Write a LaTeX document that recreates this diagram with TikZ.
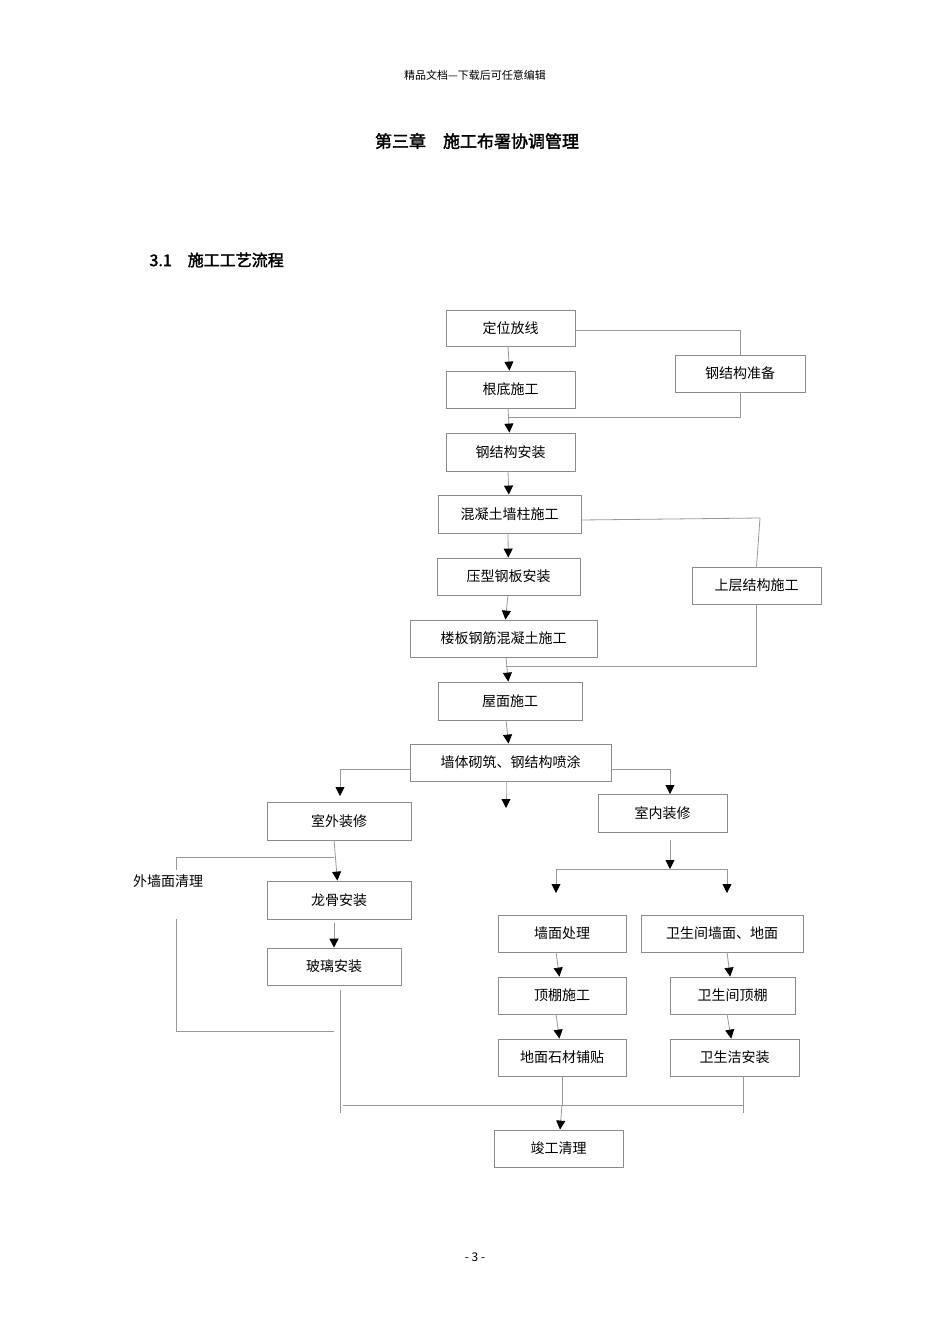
\documentclass[tikz,border=0pt]{standalone}
\usepackage{fontspec}
\setmainfont[AutoFakeBold=2]{Noto Sans CJK SC}
\usetikzlibrary{arrows.meta}
\tikzset{
  box/.style={draw=black!45, line width=0.8pt, inner sep=0pt, font=\fontsize{14}{14}\selectfont},
  ln/.style={draw=black!40, line width=0.8pt},
  ar/.style={ln, -{Triangle[length=9pt,width=9pt,color=black]}},
}
\newcommand\bx[6]{\node[box, minimum width={(#4-#2)*1pt}, minimum height={(#5-#3)*1pt}] (#1) at ({(#2+#4)/2},{(#3+#5)/2}) {#6};}
\begin{document}
\begin{tikzpicture}[x=1pt,y=-1pt]
\useasboundingbox (0,0) rectangle (950,1344);
\node (hdr) at (475,75) {\fontsize{11}{11}\selectfont 精品文档---下载后可任意编辑};
\node (ttl) at (477,141) {\fontsize{17}{17}\selectfont\bfseries 第三章\quad 施工布署协调管理};
\node[anchor=west] (sec) at (146,260) {\fontsize{16}{16}\selectfont\bfseries 3.1\quad 施工工艺流程};
\node (ftr) at (475,1257) {\fontsize{12}{12}\selectfont - 3 -};

\bx{dw}{446}{310}{575}{346}{定位放线}
\bx{gd}{446}{371}{575}{408}{根底施工}
\bx{zb}{675}{355}{805}{392}{钢结构准备}
\bx{az}{446}{433}{575}{471}{钢结构安装}
\bx{hq}{438}{495}{581}{533}{混凝土墙柱施工}
\bx{yx}{437}{558}{580}{595}{压型钢板安装}
\bx{lb}{410}{620}{597}{657}{楼板钢筋混凝土施工}
\bx{sc}{692}{567}{821}{604}{上层结构施工}
\bx{wm}{438}{682}{582}{720}{屋面施工}
\bx{qt}{410}{744}{611}{781}{墙体砌筑、钢结构喷涂}
\bx{sw}{267}{802}{411}{840}{室外装修}
\bx{sn}{598}{794}{727}{832}{室内装修}
\bx{lg}{267}{881}{411}{919}{龙骨安装}
\bx{bl}{267}{948}{401}{985}{玻璃安装}
\bx{qm}{498}{915}{626}{952}{墙面处理}
\bx{ws}{641}{915}{803}{952}{卫生间墙面、地面}
\bx{dp}{498}{977}{626}{1014}{顶棚施工}
\bx{wd}{670}{977}{795}{1014}{卫生间顶棚}
\bx{dm}{498}{1039}{626}{1076}{地面石材铺贴}
\bx{wj}{670}{1039}{799}{1076}{卫生洁安装}
\bx{jg}{494}{1130}{623}{1167}{竣工清理}
\node[font=\fontsize{14}{14}\selectfont] (wq) at (168,881) {外墙面清理};

% top section
\draw[ar] (508,346) -- (gd);
\draw[ln] (575,330) -| (zb.north);
\draw[ln] (zb.south) |- (508,417);
\draw[ar] (508,408) -- (az);
\draw[ar] (508,471) -- (hq);
\draw[ar] (508,533) -- (yx);
\draw[ar] (508,595) -- (lb);
\draw[ln] (581,520) -- (760,518);
\draw[ln] (760,518) -- (sc.north);
\draw[ln] (sc.south) |- (506,666);
\draw[ar] (506,657) -- (wm);
\draw[ar] (506,720) -- (qt);
% branch
\coordinate (mid) at (506,792);
\draw[ar] (506,781) -- (mid) -- (506,808);
\draw[ar] (qt.west |- 0,769) -| (340,796);
\draw[ar] (qt.east |- 0,769) -| (670,794);
% outer
\draw[ar] (334,840) -- (lg);
\draw[ln] (334,857) -| (176,870);
\draw[ln] (176,919) |- (334,1031);
\draw[ar] (334,923) -- (bl);
\draw[ln] (340,990) -- (340,1113);
% inner
\draw[ar] (670,840) -- (670,869);
\draw[ln] (556,869) -- (727,869);
\draw[ar] (556,869) -- (556,893);
\draw[ar] (727,869) -- (727,893);
\draw[ar] (556,952) -- (dp);
\draw[ar] (727,952) -- (wd);
\draw[ar] (556,1014) -- (dm);
\draw[ar] (727,1014) -- (wj);
% bottom
\draw[ln] (343,1105) -- (743,1105);
\draw[ln] (562,1076) -- (562,1105);
\draw[ar] (562,1105) -- (jg);
\draw[ln] (743,1076) -- (743,1113);
\end{tikzpicture}
\end{document}
